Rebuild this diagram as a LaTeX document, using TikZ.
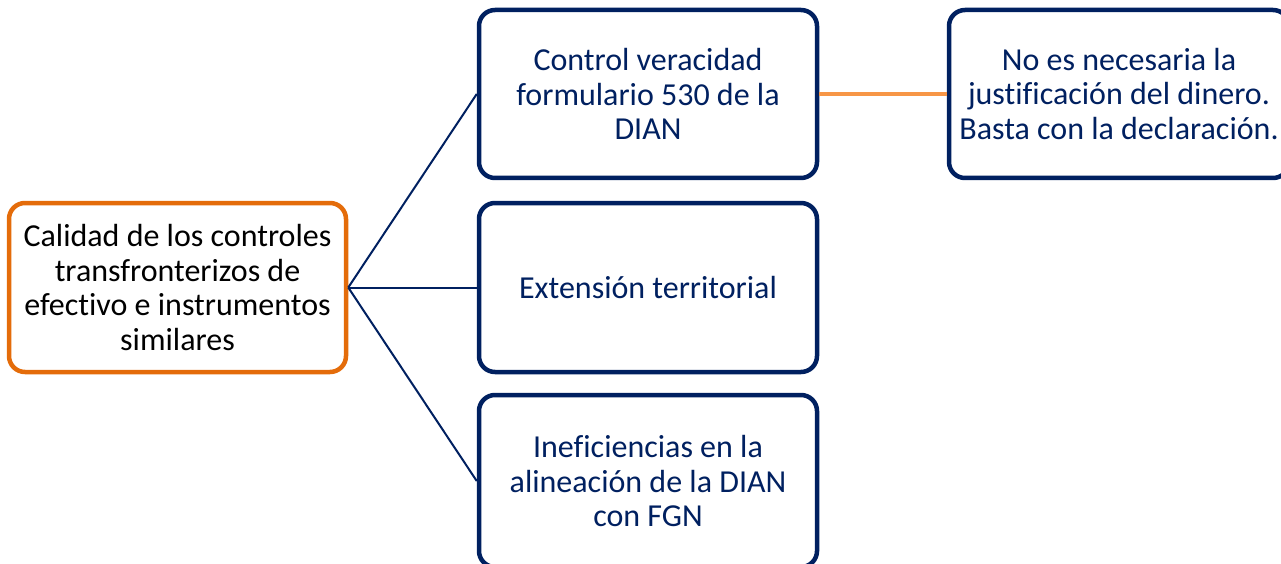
\documentclass[tikz,border=0pt]{standalone}
\usepackage{fontspec}
\setmainfont[Ligatures=NoCommon]{Carlito}
\definecolor{navy}{HTML}{002060}
\definecolor{orangedk}{HTML}{E46C0A}
\definecolor{orangelt}{HTML}{F79646}
\begin{document}
\begin{tikzpicture}[x=1pt,y=-1pt,
  box/.style={draw=navy, line width=4.5pt, rounded corners=16pt, fill=white,
    text=navy, align=center, inner sep=0pt,
    font=\fontsize{32}{34.5}\selectfont},
  rootbox/.style={box, draw=orangedk, text=black},
  link/.style={draw=navy, line width=2pt},
  olink/.style={draw=orangelt, line width=4pt}]
\useasboundingbox (0,0) rectangle (1281,564);
\clip (0,0) rectangle (1281,564);
\node[rootbox, minimum width=337pt, minimum height=169pt] (root) at (177.5,287.5)
  {Calidad de los controles\\transfronterizos de\\efectivo e instrumentos\\similares};
\node[box, minimum width=338pt, minimum height=168pt] (b1) at (648,94)
  {Control veracidad\\formulario 530 de la\\DIAN};
\node[box, minimum width=338pt, minimum height=169pt] (b2) at (648,287.5)
  {Extensión territorial};
\node[box, minimum width=338pt, minimum height=172pt] (b3) at (648,481)
  {Ineficiencias en la\\alineación de la DIAN\\con FGN};
\node[box, minimum width=340pt, minimum height=168pt] (r1) at (1119,94)
  {No es necesaria la\\justificación del dinero.\\Basta con la declaración.};
\draw[link] (root.east) -- (b1.west);
\draw[link] (root.east) -- (b2.west);
\draw[link] (root.east) -- (b3.west);
\draw[olink] (b1.east) -- (r1.west);
\end{tikzpicture}
\end{document}
